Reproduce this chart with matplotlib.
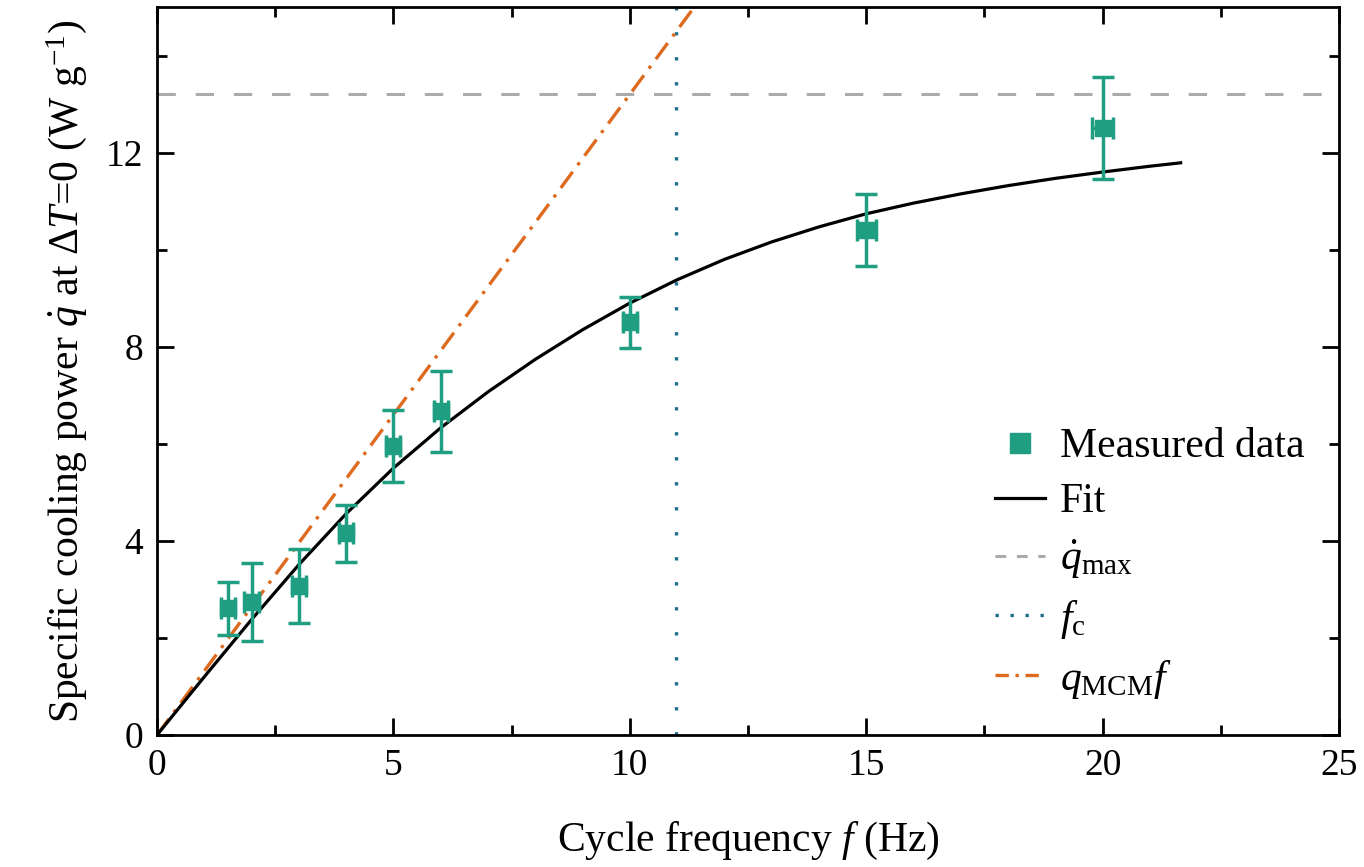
import matplotlib
matplotlib.use("Agg")
import matplotlib.pyplot as plt
from matplotlib.lines import Line2D

plt.rcParams['font.family'] = ['Liberation Serif', 'DejaVu Serif']
plt.rcParams['mathtext.fontset'] = 'custom'
plt.rcParams['mathtext.rm'] = 'Liberation Serif'
plt.rcParams['mathtext.it'] = 'Liberation Serif:italic'
plt.rcParams['mathtext.bf'] = 'Liberation Serif:bold'

# Measured data
freq = [1.5, 2, 3, 4, 5, 6, 10, 15, 20]
q_meas = [2.61, 2.74, 3.07, 4.16, 5.95, 6.67, 8.50, 10.41, 12.51]
q_err = [0.55, 0.81, 0.77, 0.59, 0.74, 0.83, 0.52, 0.74, 1.05]
f_err = [0.15, 0.15, 0.15, 0.15, 0.15, 0.15, 0.15, 0.2, 0.22]

# Fit curve
fit_f = [0, 1, 2, 3, 4, 5, 6, 7, 8, 9, 10, 11, 12, 13, 14, 15, 16, 17, 18, 19, 20, 21, 21.65]
fit_q = [0, 1.2, 2.38, 3.51, 4.56, 5.50, 6.33, 7.07, 7.74, 8.35, 8.90, 9.38, 9.80, 10.16,
         10.47, 10.74, 10.96, 11.15, 11.32, 11.47, 11.60, 11.72, 11.79]

q_max = 13.2
f_c = 10.98
q_mcm = 1.32
mcm_f = [0, 12]

teal = '#1f9e82'
orange = '#dd6a1e'
blue = '#1f6f8b'
gray = '#ababab'

fig = plt.figure(figsize=(13.64, 8.67), dpi=100)
ax = fig.add_axes([0.1151, 0.1522, 0.8666, 0.8397])

ax.axhline(q_max, color=gray, lw=2.2, dashes=(6, 6.5))
ax.axvline(f_c, color=blue, lw=2.4, dashes=(1, 6.5))
ax.plot(mcm_f, [q_mcm * f for f in mcm_f], color=orange, lw=2.4, dashes=(6, 2.5, 1, 2.5))
ax.plot(fit_f, fit_q, color='black', lw=2.3)
ax.errorbar(freq, q_meas, yerr=q_err, xerr=f_err, fmt='s', color=teal, ms=11,
            elinewidth=2.5, capsize=8, capthick=2.5, zorder=5)

ax.set_xlim(0, 25)
ax.set_ylim(0, 15)
ax.set_xticks([0, 5, 10, 15, 20, 25])
ax.set_xticks([2.5, 7.5, 12.5, 17.5, 22.5], minor=True)
ax.set_yticks([0, 4, 8, 12])
ax.set_yticks([2, 6, 10, 14], minor=True)
ax.tick_params(which='both', direction='in', top=True, right=True, width=2,
               labelsize=27)
ax.tick_params(which='major', length=12, pad=10)
ax.tick_params(which='minor', length=7)
for s in ax.spines.values():
    s.set_linewidth(2)

ax.set_xlabel(r'Cycle frequency $f$ (Hz)', fontsize=30, labelpad=26)
ax.set_ylabel(r'Specific cooling power $\dot{q}$ at $\Delta T$=0 (W g$^{-1}$)',
              fontsize=30, labelpad=12)

handles = [
    Line2D([], [], ls='none', marker='s', color=teal, ms=14),
    Line2D([], [], color='black', lw=2.3),
    Line2D([], [], color=gray, lw=2.2, dashes=(3.5, 3.5)),
    Line2D([], [], color=blue, lw=2.4, dashes=(1, 3.5)),
    Line2D([], [], color=orange, lw=2.4, dashes=(4, 2, 1, 2)),
]
labels = ['Measured data', 'Fit', r'$\dot{q}_{\mathrm{max}}$', r'$f_{\mathrm{c}}$',
          r'$q_{\mathrm{MCM}}f$']
ax.legend(handles, labels, loc='upper left', bbox_to_anchor=(0.695, 0.445),
          frameon=False, fontsize=30, handlelength=1.2, handletextpad=0.35,
          labelspacing=0.4, borderaxespad=0)

fig.savefig('out.png', dpi=100)
